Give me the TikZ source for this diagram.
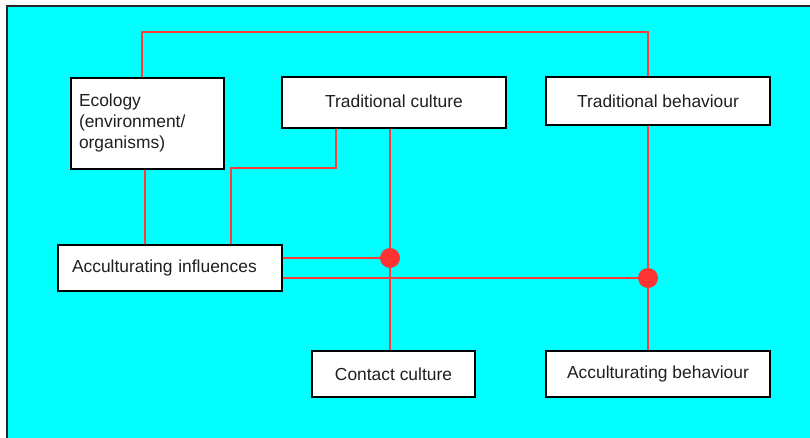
\documentclass[tikz,border=0pt]{standalone}
\usepackage{fontspec}
\setmainfont{Liberation Sans}
\definecolor{panel}{RGB}{0,255,255}
\definecolor{linkred}{RGB}{255,60,60}
\definecolor{dotred}{RGB}{255,51,51}
\begin{document}
\begin{tikzpicture}[x=1pt,y=-1pt,
  box/.style={draw=black,line width=1.6pt,fill=white,inner sep=0pt,
    font=\fontsize{17.4}{21}\selectfont,text=black!88},
  link/.style={draw=linkred,line width=1.2pt},
  junction/.style={circle,fill=dotred,inner sep=0pt,minimum size=20pt}]
\useasboundingbox (0,0) rectangle (810,438);
% panel
\fill[white] (0,0) rectangle (810,438);
\fill[panel] (7,6) rectangle (810,438);
\draw[line width=2pt,black!85] (7,438) -- (7,6) -- (810,6);

% boxes
\node[box,minimum width=153,minimum height=91,text width=137,align=left] (eco) at (147.5,123.5)
  {Ecology\\(environment/\\organisms)};
\node[box,minimum width=224,minimum height=51] (tc) at (394,102.5) {\raisebox{2pt}{Traditional culture}};
\node[box,minimum width=224,minimum height=48] (tb) at (658,101) {Traditional behaviour};
\node[box,minimum width=224,minimum height=46,text width=196,align=left] (ai) at (170,268)
  {Acculturating influences};
\node[box,minimum width=163,minimum height=46] (cc) at (393.5,374) {Contact culture};
\node[box,minimum width=224,minimum height=46] (ab) at (658,374) {Acculturating behaviour};

% bend points and junctions
\coordinate (loop) at (0,32);
\coordinate (stepbend) at (231,168);
\coordinate (j1) at (390,258);
\coordinate (j2) at (648,278);

% connectors
\draw[link] ([xshift=-5.5pt]eco.north) -- ([xshift=-5.5pt]eco.north |- loop) -| ([xshift=-10pt]tb.north);
\draw[link] ([xshift=-2.5pt]eco.south) -- ([xshift=-2.5pt]eco.south |- ai.north);
\draw[link] ([xshift=-58pt]tc.south) |- (stepbend) -- (stepbend |- ai.north);
\draw[link] ([xshift=-4pt]tc.south) -- ([xshift=-4pt]tc.south |- cc.north);
\draw[link] (ai.east |- j1) -- (j1);
\draw[link] (ai.east |- j2) -- (j2);
\draw[link] ([xshift=-10pt]tb.south) -- ([xshift=-10pt]tb.south |- ab.north);

% junction dots
\node[junction] (dot1) at (j1) {};
\node[junction] (dot2) at (j2) {};
\end{tikzpicture}
\end{document}
